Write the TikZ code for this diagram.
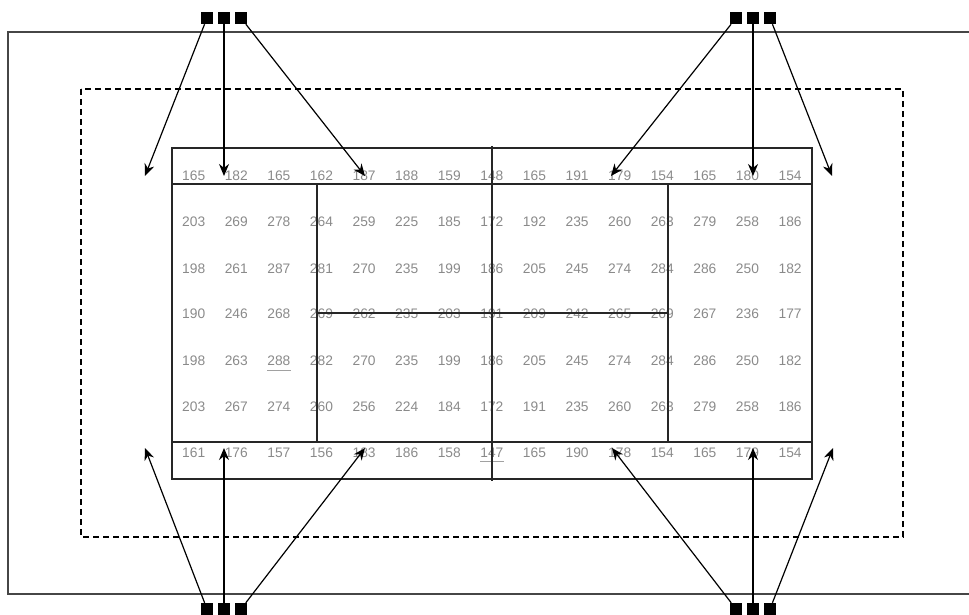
\documentclass[tikz,border=0pt]{standalone}
\usepackage{fontspec}
\setmainfont{Liberation Sans}
\usetikzlibrary{arrows.meta}
\definecolor{numgray}{RGB}{138,138,138}
\definecolor{framegray}{RGB}{70,70,70}
\begin{document}
\begin{tikzpicture}[x=1pt,y=-1pt,
  num/.style={text=numgray,inner sep=0pt,font=\fontsize{13.8}{16}\selectfont},
  sq/.style={fill=black,minimum size=12pt,inner sep=0pt},
  arr/.style={line width=1.2pt,-{Stealth[length=12pt,width=10pt]}},
  tbl/.style={line width=1.2pt,draw=black!85},
  outer/.style={line width=1.3pt,draw=framegray},
  dash box/.style={line width=1.1pt,dash pattern=on 6pt off 4pt},
  uline/.style={line width=1pt,draw=numgray!80},
]
\useasboundingbox (0,0) rectangle (969,615);
% frames
\draw[outer] (969,32) -| (8,594) -- (969,594);
\draw[dash box] (81,89) rectangle (903,537);
% numbers
\foreach \row [count=\r] in {
 {165,182,165,162,187,188,159,148,165,191,179,154,165,180,154},
 {203,269,278,264,259,225,185,172,192,235,260,263,279,258,186},
 {198,261,287,281,270,235,199,186,205,245,274,284,286,250,182},
 {190,246,268,269,262,235,203,191,209,242,265,269,267,236,177},
 {198,263,288,282,270,235,199,186,205,245,274,284,286,250,182},
 {203,267,274,260,256,224,184,172,191,235,260,263,279,258,186},
 {161,176,157,156,183,186,158,147,165,190,178,154,165,179,154}}{
  \pgfmathsetmacro\yy{{176,222,269,314,361,407,453}[\r-1]}
  \foreach \v [count=\c] in \row {
    \node[num] (t-\r-\c) at ({193.7+42.6*(\c-1)},\yy) {\v};
  }
}
\draw[uline] ([yshift=-4pt]t-5-3.south west) -- ([yshift=-4pt]t-5-3.south east);
\draw[uline] ([yshift=-4pt]t-7-8.south west) -- ([yshift=-4pt]t-7-8.south east);
% table lines
\draw[tbl] (172,148) rectangle (812,479);
\draw[tbl] (172,184) -- (812,184);
\draw[tbl] (172,442) -- (812,442);
\draw[tbl] (317,184) -- (317,442);
\draw[tbl] (668,184) -- (668,442);
\draw[tbl] (492,146) -- (492,481);
\draw[tbl] (317,313) -- (668,313);
% squares
\node[sq] (tl1) at (207,18) {};
\node[sq] (tl2) at (224,18) {};
\node[sq] (tl3) at (241,18) {};
\node[sq] (tr1) at (736,18) {};
\node[sq] (tr2) at (753,18) {};
\node[sq] (tr3) at (770,18) {};
\node[sq] (bl1) at (207,609) {};
\node[sq] (bl2) at (224,609) {};
\node[sq] (bl3) at (241,609) {};
\node[sq] (br1) at (736,609) {};
\node[sq] (br2) at (753,609) {};
\node[sq] (br3) at (770,609) {};
% arrow targets
\coordinate (ptl1) at (145,176);
\coordinate (ptl2) at (224,176);
\coordinate (ptl3) at (365,176);
\coordinate (ptr1) at (611,176);
\coordinate (ptr2) at (753,176);
\coordinate (ptr3) at (832,176);
\coordinate (pbl1) at (145,448);
\coordinate (pbl2) at (224,448);
\coordinate (pbl3) at (365,448);
\coordinate (pbr1) at (612,448);
\coordinate (pbr2) at (753,448);
\coordinate (pbr3) at (833,448);
\foreach \g in {tl,tr,bl,br}{
  \foreach \i in {1,2,3}{
    \draw[arr] (\g\i) -- (p\g\i);
  }
}
\end{tikzpicture}
\end{document}
